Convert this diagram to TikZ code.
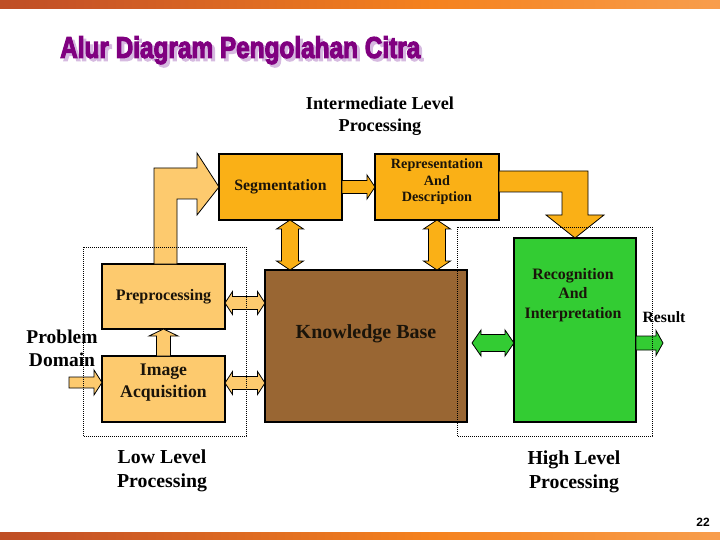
\documentclass[tikz,border=0pt]{standalone}
\usepackage{fontspec}
\usepackage{graphicx}
\setmainfont{Liberation Serif}
\newfontfamily\titlefont{Liberation Sans}[FakeBold=4]
\newfontfamily\numfont{Liberation Sans}
\usetikzlibrary{calc}
\definecolor{orangeA}{RGB}{250,176,22}
\definecolor{orangeL}{RGB}{253,202,110}
\definecolor{brownK}{RGB}{153,102,51}
\definecolor{greenR}{RGB}{51,204,51}
\definecolor{textdark}{RGB}{26,20,10}
\definecolor{titlepurple}{RGB}{128,0,128}
\definecolor{titleshade}{RGB}{214,186,224}
\definecolor{barL}{RGB}{140,40,30}
\definecolor{barA}{RGB}{200,85,38}
\definecolor{barM}{RGB}{245,130,30}
\definecolor{barR}{RGB}{251,192,135}
\pgfdeclarehorizontalshading{barshade}{100bp}{color(0bp)=(barL); color(30bp)=(barA); color(55bp)=(barM); color(100bp)=(barR)}
% block arrow helpers (pixel units, y downwards); #1,#2 are coordinate names
\newcommand\harrowB[6]{% #1 start, #2 tip, #3 half shaft, #4 half head, #5 head length, #6 style
  \draw[#6] ([shift={(0,-#3)}]#1) -- ([shift={(-#5,-#3)}]#2) -- ([shift={(-#5,-#4)}]#2) -- (#2)
    -- ([shift={(-#5,#4)}]#2) -- ([shift={(-#5,#3)}]#2) -- ([shift={(0,#3)}]#1) -- cycle;}
\newcommand\uarrowB[6]{% #1 start (bottom), #2 tip (top)
  \draw[#6] ([shift={(-#3,0)}]#1) -- ([shift={(-#3,#5)}]#2) -- ([shift={(-#4,#5)}]#2) -- (#2)
    -- ([shift={(#4,#5)}]#2) -- ([shift={(#3,#5)}]#2) -- ([shift={(#3,0)}]#1) -- cycle;}
\newcommand\hdarrowB[6]{% #1 left tip, #2 right tip
  \draw[#6] (#1) -- ([shift={(#5,-#4)}]#1) -- ([shift={(#5,-#3)}]#1) -- ([shift={(-#5,-#3)}]#2)
    -- ([shift={(-#5,-#4)}]#2) -- (#2) -- ([shift={(-#5,#4)}]#2) -- ([shift={(-#5,#3)}]#2)
    -- ([shift={(#5,#3)}]#1) -- ([shift={(#5,#4)}]#1) -- cycle;}
\newcommand\vdarrowB[6]{% #1 top tip, #2 bottom tip
  \draw[#6] (#1) -- ([shift={(#4,#5)}]#1) -- ([shift={(#3,#5)}]#1) -- ([shift={(#3,-#5)}]#2)
    -- ([shift={(#4,-#5)}]#2) -- (#2) -- ([shift={(-#4,-#5)}]#2) -- ([shift={(-#3,-#5)}]#2)
    -- ([shift={(-#3,#5)}]#1) -- ([shift={(-#4,#5)}]#1) -- cycle;}
\begin{document}
\begin{tikzpicture}[x=1pt,y=-1pt,
  box/.style={draw=black, line width=2.5pt, inner sep=0pt, outer sep=0pt, anchor=north west, text=textdark, align=center},
  lbl/.style={inner sep=0pt, align=center, text=textdark},
  ext/.style={inner sep=0pt, align=center, text=black},
  arrO/.style={fill=orangeA, draw=black, line width=0.8pt, line join=miter},
  arrL/.style={fill=orangeL, draw=black, line width=0.8pt, line join=miter},
  arrG/.style={fill=greenR, draw=black, line width=0.8pt, line join=miter},
  zone/.style={draw=black, line width=0.7pt, dash pattern=on 0.7pt off 1.3pt}]
\useasboundingbox (0,0) rectangle (720,540);
\fill[white] (0,0) rectangle (720,540);
% bars
\shade[shading=barshade] (0,0) rectangle (720,9);
\shade[shading=barshade] (0,532) rectangle (720,540);
% title
\node[anchor=north west, inner sep=0pt, text=titleshade] (titleshadow) at (63,39)
  {\resizebox*{360pt}{28pt}{\titlefont\bfseries Alur Diagram Pengolahan Citra}};
\node[anchor=north west, inner sep=0pt, text=titlepurple] (title) at (60,36)
  {\resizebox*{360pt}{28pt}{\titlefont\bfseries Alur Diagram Pengolahan Citra}};
% boxes
\node[box, fill=orangeA, minimum width=123pt, minimum height=66pt,
  font=\fontsize{15.8}{18}\selectfont\bfseries] (seg) at (219,154) {Segmentation};
\node[box, fill=orangeA, minimum width=124pt, minimum height=66pt] (rep) at (375,154) {};
\node[box, fill=brownK, minimum width=202pt, minimum height=152pt] (kb) at (265,270) {};
\node[box, fill=orangeL, minimum width=123pt, minimum height=65pt,
  font=\fontsize{16}{18}\selectfont\bfseries] (pre) at (102,264) {Preprocessing};
\node[box, fill=orangeL, minimum width=123pt, minimum height=66pt] (acq) at (102,356) {};
\node[box, fill=greenR, minimum width=122pt, minimum height=184pt] (rec) at (514,238) {};
% box labels
\node[lbl, font=\fontsize{14.2}{16.5}\selectfont\bfseries] (rept) at (437,182) {Representation\\And\\Description};
\node[lbl, font=\fontsize{20}{23}\selectfont\bfseries] (kbt) at (366,334) {Knowledge Base};
\node[lbl, font=\fontsize{17.7}{22}\selectfont\bfseries] (acqt) at (163.5,383) {Image\\Acquisition};
\node[lbl, font=\fontsize{15.9}{19.5}\selectfont\bfseries] (rect) at (573,295) {Recognition\\And\\Interpretation};
% connector coordinates
\coordinate (sk1) at ([xshift=9.5]seg.south);
\coordinate (sk2) at (sk1 |- kb.north);
\coordinate (rk1) at (rep.south);
\coordinate (rk2) at (rk1 |- kb.north);
\coordinate (pk1) at ([yshift=-6.5]pre.east);
\coordinate (pk2) at (pk1 -| kb.west);
\coordinate (ak1) at ([yshift=6]acq.east);
\coordinate (ak2) at (ak1 -| kb.west);
\coordinate (pd2) at ([yshift=6.5]acq.west);
\coordinate (pd1) at ([xshift=-33]pd2);
\coordinate (kr2) at ([yshift=-13]rec.west);
\path (kr2 -| kb.east) ++(5,0) coordinate (kr1);
\coordinate (rs1) at (kr2 -| rec.east);
\coordinate (rs2) at ([xshift=27]rs1);
\coordinate (sr1) at (seg.east);
\coordinate (sr2) at (rep.west);
\coordinate (ap1) at (acq.north);
\coordinate (ap2) at (pre.south);
\coordinate (ro1) at (rep.east |- 0,171);
\coordinate (ro2) at (rep.east |- 0,192);
% bent block arrows
\draw[arrL] (154,264) -- (154,168) -- (197,168) -- (197,153) -- (seg.west) -- (197,215)
  -- (197,199) -- (177,199) -- (177,264) -- cycle;
\draw[arrO] (ro1) -- (588,171) -- (588,215) -- (604,215) -- (rec.north)
  -- (546,215) -- (562,215) -- (562,192) -- (ro2) -- cycle;
% straight block arrows
\harrowB{sr1}{sr2}{6.5}{12}{8}{arrO}
\vdarrowB{sk1}{sk2}{8.5}{13.5}{9}{arrO}
\vdarrowB{rk1}{rk2}{8.5}{13.5}{9}{arrO}
\hdarrowB{pk1}{pk2}{6.5}{11.5}{7.5}{arrL}
\hdarrowB{ak1}{ak2}{6.5}{11.5}{7.5}{arrL}
\uarrowB{ap1}{ap2}{7}{14.5}{7}{arrL}
\harrowB{pd1}{pd2}{5.5}{12.5}{8}{arrL}
\hdarrowB{kr1}{kr2}{8.5}{13}{9}{arrG}
\harrowB{rs1}{rs2}{7}{12.5}{7}{arrG}
% dotted zones
\draw[zone] (83,247) rectangle (246,436);
\draw[zone] (457,227) rectangle (652,436);
% outside texts
\node[ext, font=\fontsize{18.2}{22}\selectfont\bfseries] (inter) at (380,116) {Intermediate Level\\Processing};
\node[ext, font=\fontsize{19.8}{24}\selectfont\bfseries] (low) at (162,471) {Low Level\\Processing};
\node[ext, font=\fontsize{19.8}{24}\selectfont\bfseries] (high) at (574,472) {High Level\\Processing};
\node[ext, font=\fontsize{19.5}{23}\selectfont\bfseries] (prob) at (62,348) {Problem\\Domain};
\node[ext, font=\fontsize{15.7}{18}\selectfont\bfseries] (res) at (664,317) {Result};
\node[ext, font=\fontsize{12}{14}\selectfont\numfont\bfseries] (pnum) at (703,522) {22};
\end{tikzpicture}
\end{document}
